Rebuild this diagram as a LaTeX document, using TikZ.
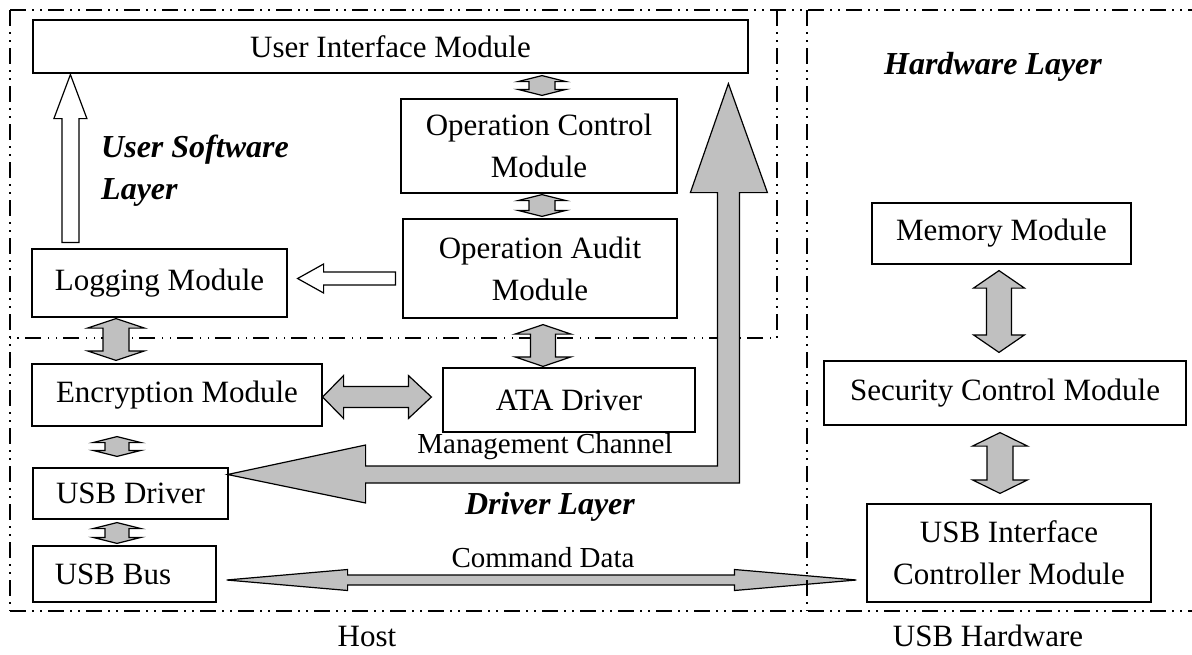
\documentclass[tikz,border=0pt]{standalone}
\usepackage{fontspec}
\setmainfont{Liberation Serif}
\usetikzlibrary{calc}
\definecolor{arrowgray}{RGB}{192,192,192}
\newcommand\modfont{\fontsize{31}{42}\selectfont}
\newcommand\lblfont{\fontsize{29}{34}\selectfont}
\newcommand\layfont{\fontsize{32}{42}\selectfont\bfseries\itshape}
% vertical double block arrow: #1 top tip, #2 bottom tip, #3 shaft half width, #4 head half width, #5 head length
\newcommand\vdblock[5]{%
  \draw[blk] let \p1=(#1), \p2=(#2) in
  (\x1,\y1) -- (\x1+#4,\y1-#5) -- (\x1+#3,\y1-#5) -- (\x1+#3,\y2+#5) -- (\x1+#4,\y2+#5) -- (\x1,\y2)
  -- (\x1-#4,\y2+#5) -- (\x1-#3,\y2+#5) -- (\x1-#3,\y1-#5) -- (\x1-#4,\y1-#5) -- cycle;}
% horizontal double block arrow: #1 left tip, #2 right tip, #3 shaft half height, #4 head half height, #5 left head length, #6 right head length
\newcommand\hdblock[6]{%
  \draw[blk] let \p1=(#1), \p2=(#2) in
  (\x1,\y1) -- (\x1+#5,\y1+#4) -- (\x1+#5,\y1+#3) -- (\x2-#6,\y1+#3) -- (\x2-#6,\y1+#4) -- (\x2,\y1)
  -- (\x2-#6,\y1-#4) -- (\x2-#6,\y1-#3) -- (\x1+#5,\y1-#3) -- (\x1+#5,\y1-#4) -- cycle;}
\begin{document}
\begin{tikzpicture}[x=1pt,y=-1pt,
  mod/.style={draw, line width=1.2pt, fill=white, inner sep=0pt, align=center, font=\modfont},
  blk/.style={draw, line width=1.2pt, fill=arrowgray, line join=miter},
  wblk/.style={draw, line width=1.2pt, fill=white, line join=miter},
  layerline/.style={line width=1.3pt, dash pattern=on 16pt off 6pt on 1.5pt off 6.5pt on 1.5pt off 6.5pt},
  lbl/.style={inner sep=0pt, font=\lblfont},
  lay/.style={inner sep=0pt, align=left, font=\layfont},
  captext/.style={inner sep=0pt, font=\modfont}]
\useasboundingbox (0,0) rectangle (1192,654);
% layer frames
\draw[layerline] (10,10) -- (1192,10);
\draw[layerline] (10,611) -- (1192,611);
\draw[layerline] (10,10) -- (10,611);
\draw[layerline] (777,10) -- (777,338) -- (10,338);
% modules
\node[mod, minimum width=715pt, minimum height=53pt] (ui) at (390.5,46.5) {User Interface Module};
\node[mod, minimum width=276pt, minimum height=94pt] (opc) at (539,146) {Operation Control\\Module};
\node[mod, minimum width=274pt, minimum height=99pt] (aud) at (540,268.5) {Operation Audit\\Module};
\node[mod, minimum width=255pt, minimum height=68pt] (log) at (159.5,283) {Logging Module};
\node[mod, minimum width=290pt, minimum height=62pt] (enc) at (177,395) {Encryption Module};
\node[mod, minimum width=252pt, minimum height=64pt] (ata) at (569,400) {ATA Driver};
\node[mod, minimum width=195pt, minimum height=51pt] (usbd) at (130.5,493.5) {USB Driver};
\node[mod, minimum width=183pt, minimum height=56pt] (usbb) at (124.5,574) {USB Bus\hspace{23pt}};
\node[mod, minimum width=259pt, minimum height=61pt] (mem) at (1001.5,233.5) {Memory Module};
\node[mod, minimum width=362pt, minimum height=64pt] (sec) at (1005,393) {Security Control Module};
\node[mod, minimum width=284pt, minimum height=98pt] (usbi) at (1009,553) {USB Interface\\Controller Module};
% double block arrows
\vdblock{$(ui.south -| opc.north)+(3,2)$}{$(opc.north)+(3,-3)$}{13pt}{24pt}{6pt}
\vdblock{$(opc.south)+(3,1)$}{$(aud.north)+(2,-2)$}{13pt}{24pt}{6pt}
\vdblock{$(aud.south)+(3,6)$}{$(ata.north -| aud.south)+(3,-1)$}{12.5pt}{28pt}{9.5pt}
\vdblock{$(log.south)+(-43.5,1)$}{$(enc.north -| log.south)+(-43.5,-3)$}{13pt}{28.5pt}{9.5pt}
\vdblock{$(enc.south -| usbd.north)+(-13.5,10)$}{$(usbd.north)+(-13.5,-11)$}{12pt}{24pt}{6pt}
\vdblock{$(usbd.south)+(-13.5,3)$}{$(usbb.north -| usbd.south)+(-13.5,-2)$}{12pt}{24pt}{6pt}
\vdblock{$(mem.south)+(-2.5,6)$}{$(sec.north -| mem.south)+(-2.5,-8)$}{12.5pt}{25.5pt}{17.5pt}
\vdblock{$(sec.south -| usbi.north)+(-9,7)$}{$(usbi.north)+(-9,-10)$}{13pt}{27.5pt}{13.5pt}
\hdblock{$(enc.east)+(0,2)$}{$(ata.west |- enc.east)+(-11,2)$}{10.5pt}{21.5pt}{21pt}{23pt}
\hdblock{$(usbb.east)+(10,6)$}{$(usbi.west |- usbb.east)+(-10,6)$}{5pt}{10.5pt}{121pt}{122pt}
% white arrows
\draw[wblk] let \p1=($(ui.south west)+(38,1)$), \p2=($(log.north west)+(39,-6)$) in
  (\x1,\y1) -- (\x1+16.5pt,\y1-44pt) -- (\x1+8.5pt,\y1-44pt) -- (\x1+8.5pt,\y2)
  -- (\x1-8.5pt,\y2) -- (\x1-8.5pt,\y1-44pt) -- (\x1-16.5pt,\y1-44pt) -- cycle;
\draw[wblk] let \p1=($(log.east)+(10,-4.5)$), \p2=($(aud.west |- log.east)+(-7,-4.5)$) in
  (\x1,\y1) -- (\x1+26pt,\y1+14.5pt) -- (\x1+26pt,\y1+6.5pt) -- (\x2,\y1+6.5pt)
  -- (\x2,\y1-6.5pt) -- (\x1+26pt,\y1-6.5pt) -- (\x1+26pt,\y1-14.5pt) -- cycle;
% management channel L-shaped arrow
\draw[blk] let \p1=($(usbd.east)+(-1,-19)$), \p2=($(ui.south west)+(696,10)$) in
  (\x1,\y1) -- (\x1+138pt,\y1+29.5pt) -- (\x1+138pt,\y1+8.5pt) -- (\x2-11pt,\y1+8.5pt)
  -- (\x2-11pt,\y2-109pt) -- (\x2-38pt,\y2-109pt) -- (\x2,\y2) -- (\x2+39pt,\y2-109pt)
  -- (\x2+11pt,\y2-109pt) -- (\x2+11pt,\y1-8.5pt) -- (\x1+138pt,\y1-8.5pt) -- (\x1+138pt,\y1-28.5pt) -- cycle;
% divider between host and hardware
\draw[layerline] (807,10) -- (807,611);
% labels
\node[lbl] (mgmt) at (545,447) {Management Channel};
\node[lbl] (cmd) at (543,558) {Command Data};
\node[lay] (drv) at (550,507) {Driver Layer};
\node[lay, anchor=west] (usl) at (101,171) {User Software\\Layer};
\node[lay] (hwl) at (993,67) {Hardware Layer};
\node[captext] (host) at (367,636) {Host};
\node[captext] (usbhw) at (988,636) {USB Hardware};
\end{tikzpicture}
\end{document}
